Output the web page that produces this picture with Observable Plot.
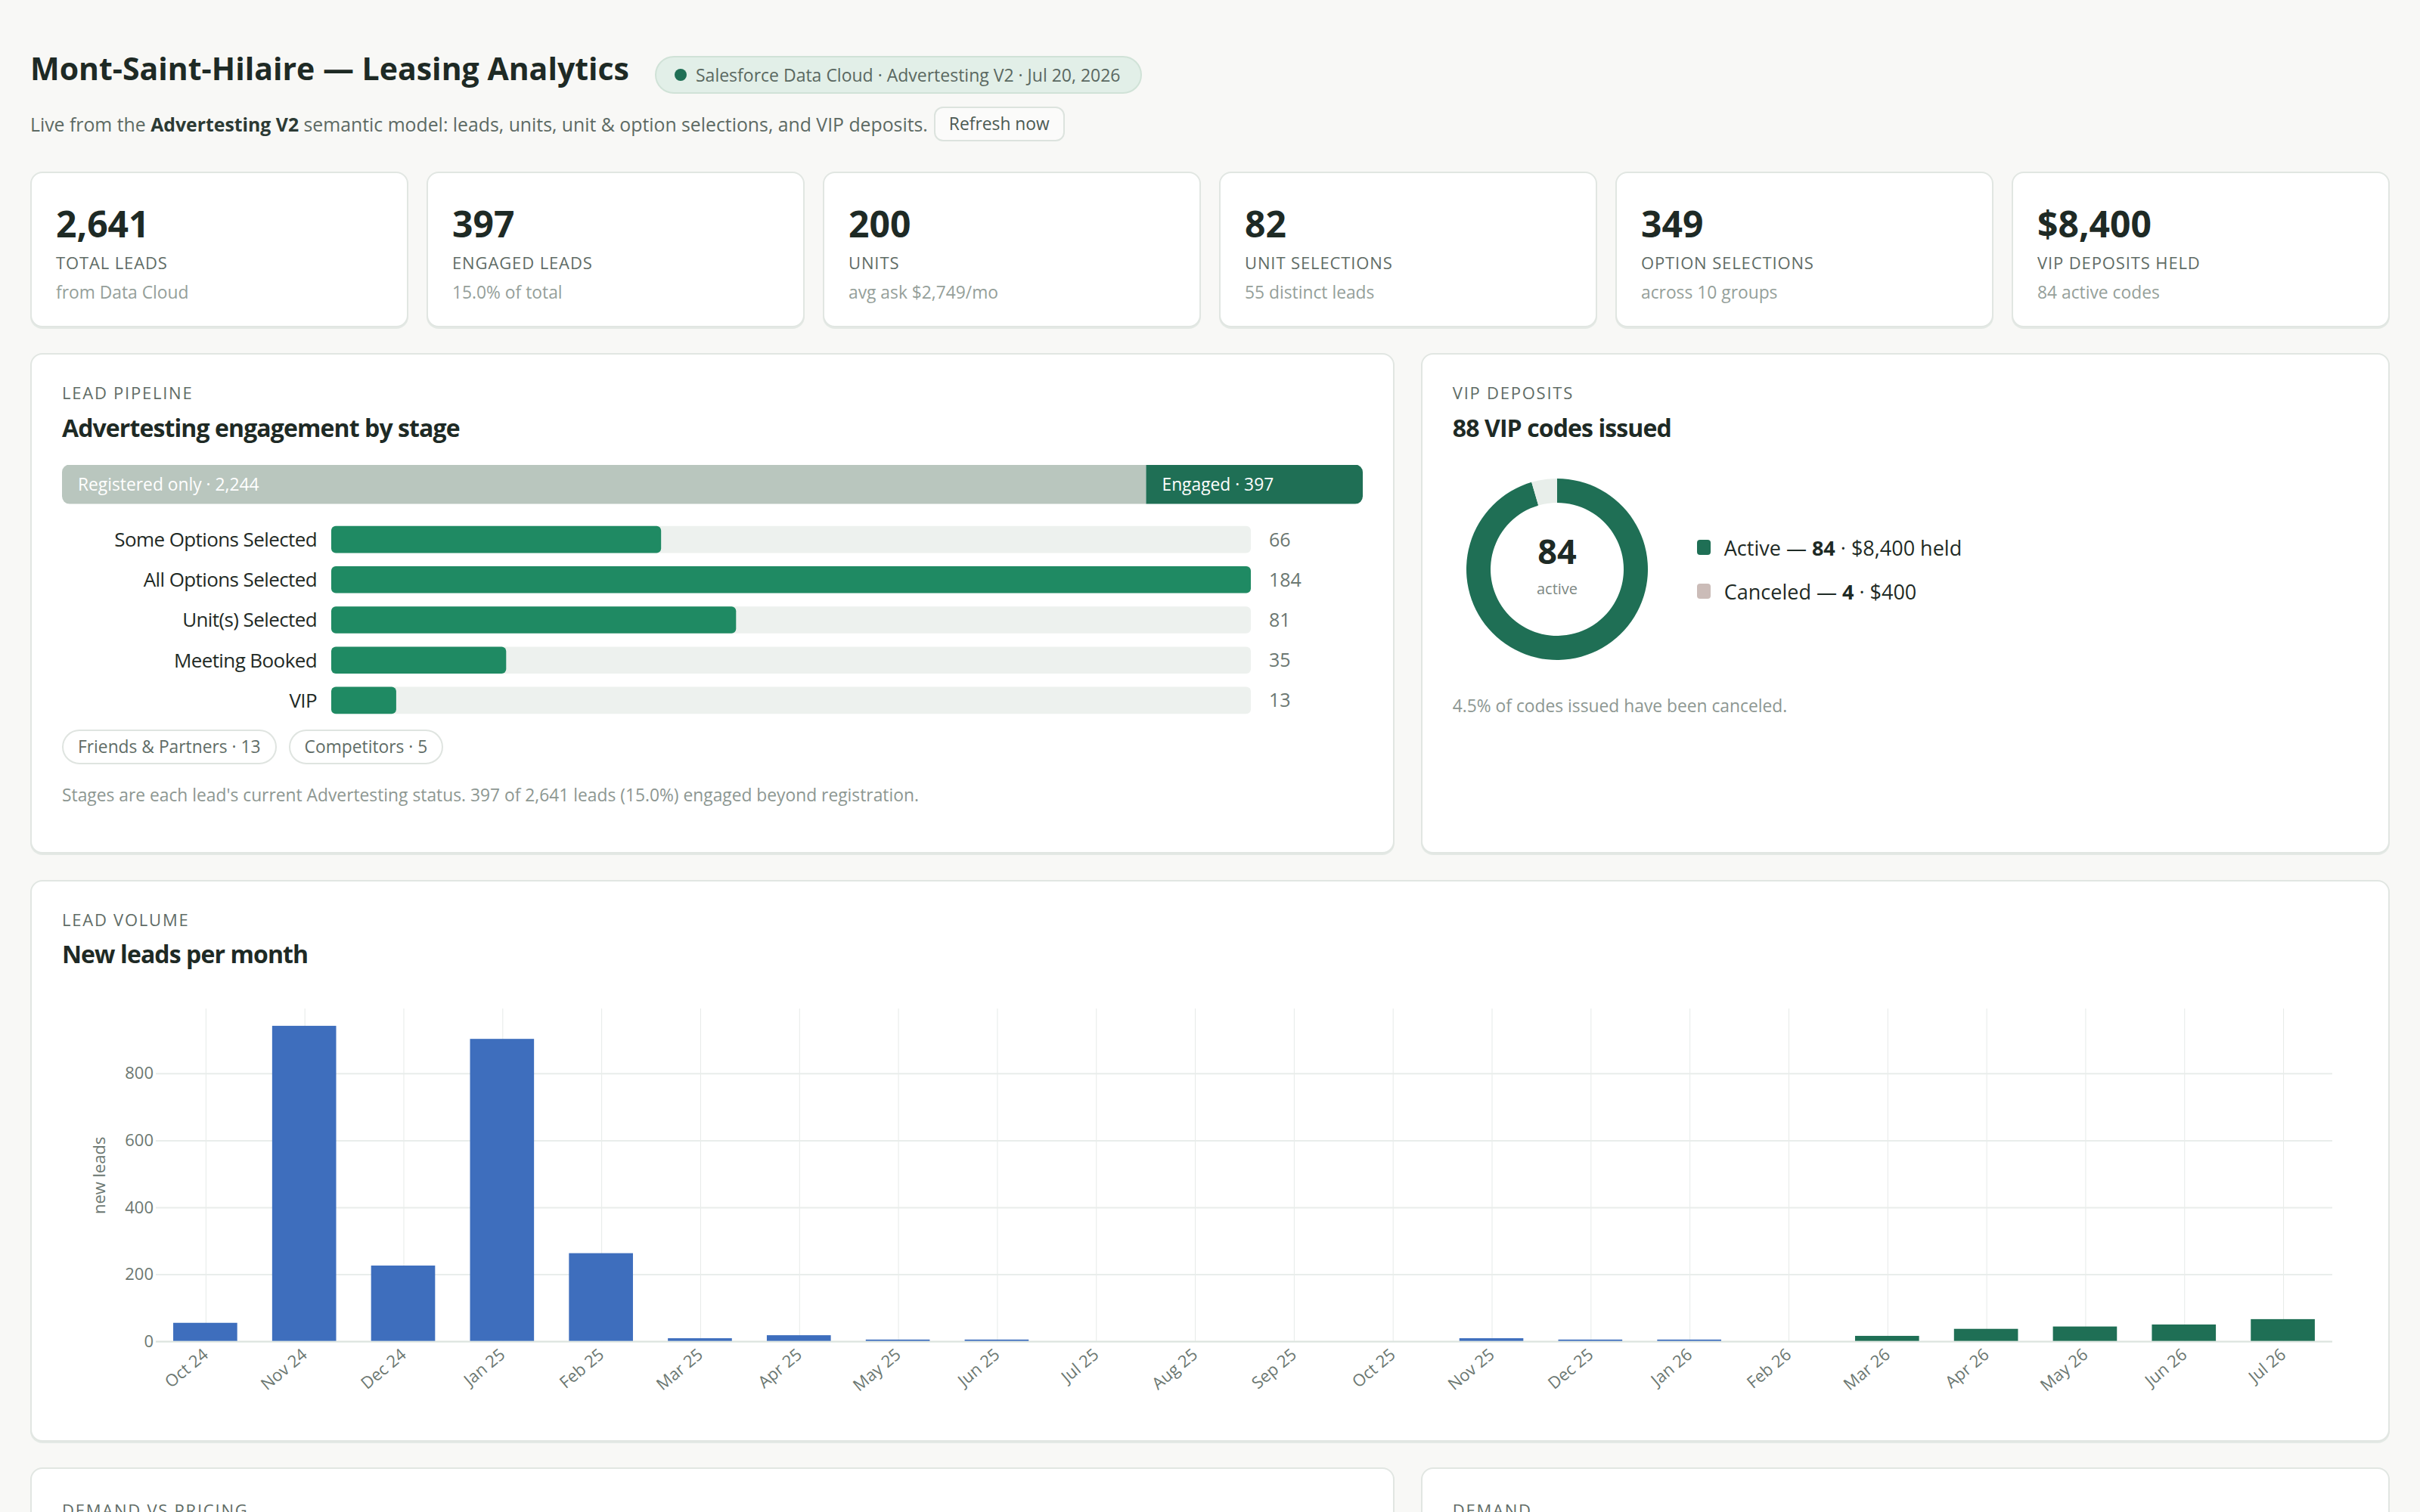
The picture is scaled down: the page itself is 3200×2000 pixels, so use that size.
<!DOCTYPE html>
<html lang="en">
<head>
<meta charset="utf-8">
<title>Mont-Saint-Hilaire — Leasing Analytics</title>
<script src="https://cdn.jsdelivr.net/npm/d3@7"></script>
<script src="https://cdn.jsdelivr.net/npm/@observablehq/plot@0.6"></script>
<style>
  html { zoom: 2; }
  body { margin: 0; background: #f8f8f6; font-family: "Open Sans", "Noto Sans", sans-serif; color: #1e2a25; }
  .page { width: 1560px; padding: 31px 20px 0; }
  .head { display: flex; align-items: flex-start; height: 28px; }
  h1 { margin: 0; font-size: 20.5px; line-height: 28px; font-weight: 700; color: #1e2a25; white-space: nowrap; }
  .badge { margin: 6px 0 0 17px; height: 25px; box-sizing: border-box; padding: 0 13px 0 12px; border: 1px solid #d0e2d7; background: #e2efe8; border-radius: 13px; font-size: 11.5px; color: #5a6861; display: flex; align-items: center; white-space: nowrap; }
  .badge .dot { width: 8px; height: 8px; border-radius: 50%; background: #1f6f55; margin-right: 6px; }
  .sub { margin-top: 11.5px; display: flex; align-items: center; height: 23px; font-size: 12.4px; color: #5d6a64; white-space: nowrap; }
  .sub b { color: #2c3a34; }
  .btn { margin-left: 4px; height: 23px; box-sizing: border-box; padding: 0 9px; border: 1px solid #dce3de; border-radius: 6px; background: #fbfbfa; font-size: 11.4px; line-height: 21px; color: #4b5a53; }
  .kpis { margin-top: 19.8px; display: grid; grid-template-columns: repeat(6, 1fr); gap: 12px; }
  .card { background: #fff; border: 1px solid #e1e6e2; border-radius: 8px; box-sizing: border-box; box-shadow: 0 1px 0 #e4e9e5; }
  .kpi { height: 103px; padding: 18.5px 16px 0; }
  .kpi .v { font-size: 24px; line-height: 30px; font-weight: 700; color: #1e2a25; }
  .kpi .l { margin-top: 3.5px; font-size: 11px; line-height: 14px; letter-spacing: .04em; color: #5f6c66; text-transform: uppercase; }
  .kpi .s { margin-top: 5px; font-size: 11.4px; line-height: 16px; color: #959f9a; }
  .row { margin-top: 17.4px; display: grid; grid-template-columns: 902px 1fr; gap: 17.4px; }
  .panel { padding: 18px 20px 0; }
  .tall { height: 331px; }
  .eyebrow { font-size: 11px; line-height: 14px; letter-spacing: .08em; color: #5f6c66; text-transform: uppercase; }
  .ptitle { margin-top: 5.2px; font-size: 16px; line-height: 22px; font-weight: 700; letter-spacing: -0.45px; color: #1e2a25; }
  .split svg { display: block; clip-path: inset(0 round 5px); }
  .split { margin-top: 13.4px; height: 26px; }
  .stages { margin-top: 10px; height: 133px; }
  .stages svg, .volume svg, .donut svg { display: block; overflow: visible; }
  .stages g[aria-label="y-axis tick label"] text { letter-spacing: -0.3px; }
  .pills { margin-top: 6px; display: flex; gap: 8px; }
  .pill { height: 23px; box-sizing: border-box; border: 1px solid #dfe4e0; border-radius: 12px; padding: 0 9.5px; font-size: 11.4px; line-height: 21px; color: #5f6c66; }
  .foot { margin-top: 12.6px; font-size: 11.4px; line-height: 16px; color: #8d9792; white-space: nowrap; }
  .vipbody { margin-top: 12.8px; display: flex; align-items: center; height: 140px; }
  .donut { width: 140px; height: 140px; margin-left: -1px; }
  .legend { margin-left: 22.5px; display: flex; flex-direction: column; }
  .legend div { height: 29px; display: flex; align-items: center; font-size: 13.5px; color: #1e2a25; white-space: nowrap; }
  .legend i { display: inline-block; width: 9px; height: 10px; border-radius: 2px; margin-right: 9px; }
  .vipnote { margin-top: 12.3px; font-size: 11.4px; line-height: 16px; color: #8d9792; }
  .volcard { margin-top: 17.3px; height: 371.7px; }
  .volume { margin-top: 6px; }
  .lower { margin-top: 17px; }
  .lower .card { height: 300px; padding-top: 20px; }
</style>
</head>
<body>
<div class="page">
  <div class="head">
    <h1>Mont-Saint-Hilaire — Leasing Analytics</h1>
    <div class="badge"><span class="dot"></span>Salesforce Data Cloud · Advertesting V2 · Jul 20, 2026</div>
  </div>
  <div class="sub">Live from the&nbsp;<b>Advertesting V2</b>&nbsp;semantic model: leads, units, unit &amp; option selections, and VIP deposits.<span class="btn">Refresh now</span></div>

  <div class="kpis" id="kpis"></div>

  <div class="row">
    <div class="card panel tall">
      <div class="eyebrow">Lead pipeline</div>
      <div class="ptitle">Advertesting engagement by stage</div>
      <div class="split" id="split"></div>
      <div class="stages" id="stages"></div>
      <div class="pills" id="pills"></div>
      <div class="foot" id="pipefoot"></div>
    </div>
    <div class="card panel tall">
      <div class="eyebrow">VIP deposits</div>
      <div class="ptitle" id="viptitle"></div>
      <div class="vipbody">
        <div class="donut" id="donut"></div>
        <div class="legend" id="viplegend"></div>
      </div>
      <div class="vipnote" id="vipnote"></div>
    </div>
  </div>

  <div class="card panel volcard">
    <div class="eyebrow">Lead volume</div>
    <div class="ptitle">New leads per month</div>
    <div class="volume" id="volume"></div>
  </div>

  <div class="row lower">
    <div class="card panel"><div class="eyebrow">Demand vs pricing</div></div>
    <div class="card panel"><div class="eyebrow">Demand</div></div>
  </div>
</div>

<script>
// ---- headline figures ----
const kpiValues = ["2,641", "397", "200", "82", "349", "$8,400"];
const kpiLabels = ["Total leads", "Engaged leads", "Units", "Unit selections", "Option selections", "VIP deposits held"];
const kpiNotes = ["from Data Cloud", "15.0% of total", "avg ask $2,749/mo", "55 distinct leads", "across 10 groups", "84 active codes"];

// ---- pipeline ----
const segments = ["Registered only", "Engaged"];
const segmentLeads = [2244, 397];

const stages = ["Some Options Selected", "All Options Selected", "Unit(s) Selected", "Meeting Booked", "VIP"];
const stageLeads = [66, 184, 81, 35, 13];

const groupNames = ["Friends & Partners", "Competitors"];
const groupLeads = [13, 5];

// ---- VIP deposits ----
const vipStatus = ["Active", "Canceled"];
const vipCodes = [84, 4];
const vipHeld = [8400, 400];

// ---- monthly lead volume ----
const months = ["Oct 24", "Nov 24", "Dec 24", "Jan 25", "Feb 25", "Mar 25", "Apr 25", "May 25", "Jun 25", "Jul 25", "Aug 25",
                "Sep 25", "Oct 25", "Nov 25", "Dec 25", "Jan 26", "Feb 26", "Mar 26", "Apr 26", "May 26", "Jun 26", "Jul 26"];
const newLeads = [54, 941, 225, 902, 262, 8, 17, 4, 4, 0, 0, 0, 0, 8, 4, 4, 0, 15, 36, 43, 49, 65];
const phase = ["before", "before", "before", "before", "before", "before", "before", "before", "before", "before", "before",
               "before", "before", "before", "before", "before", "before", "after", "after", "after", "after", "after"];
const yTicks = [0, 200, 400, 600, 800];

const FONT = '"Open Sans", "Noto Sans", sans-serif';
const fmt = d3.format(",");

// KPI cards
d3.select("#kpis").selectAll("div.kpi").data(kpiValues).join("div")
  .attr("class", "card kpi")
  .html((v, i) => `<div class="v">${v}</div><div class="l">${kpiLabels[i]}</div><div class="s">${kpiNotes[i]}</div>`);

// Registered vs engaged split bar (each segment carries 10px of padding on both sides)
const totalLeads = d3.sum(segmentLeads);
const segEnds = d3.cumsum(segmentLeads);
const segRows = segments.map((s, i) => ({segment: s, leads: segmentLeads[i], start: segEnds[i] - segmentLeads[i], end: segEnds[i]}));
const splitW = 860;
document.getElementById("split").append(Plot.plot({
  width: splitW, height: 26, margin: 0,
  style: {fontFamily: FONT, background: "transparent"},
  x: {domain: [0, totalLeads], range: [0, splitW - 40], axis: null},
  marks: [
    Plot.barX([segRows[0]], {x1: "start", x2: "end", fill: "#b9c6be", insetRight: -20}),
    Plot.barX([segRows[1]], {x1: "start", x2: "end", fill: "#1f6f55", dx: 20, insetRight: -20}),
    Plot.text([segRows[0]], {x: "start", text: d => `${d.segment} · ${fmt(d.leads)}`, dx: 10, textAnchor: "start", fill: "#fff", fontSize: 11.4}),
    Plot.text([segRows[1]], {x: "start", text: d => `${d.segment} · ${fmt(d.leads)}`, dx: 30, textAnchor: "start", fill: "#fff", fontSize: 11.4})
  ]
}));

// Stage bars on a shared track
const stageRows = stages.map((s, i) => ({stage: s, leads: stageLeads[i]}));
const stageMax = d3.max(stageLeads);
document.getElementById("stages").append(Plot.plot({
  width: 860, height: 133, marginTop: 0, marginBottom: 0, marginLeft: 178, marginRight: 74,
  style: {fontFamily: FONT, background: "transparent"},
  x: {domain: [0, stageMax], axis: null},
  y: {domain: stages, paddingInner: 0.33, paddingOuter: 0.165, round: false, axis: null},
  marks: [
    Plot.barX(stageRows, {y: "stage", x1: 0, x2: stageMax, fill: "#edf1ee", rx: 3}),
    Plot.barX(stageRows, {y: "stage", x: "leads", fill: "#1f8a63", rx: 3}),
    Plot.text(stageRows, {y: "stage", x: stageMax, text: d => String(d.leads), dx: 11.5, textAnchor: "start", fill: "#6b7771", fontSize: 12.5}),
    Plot.axisY({tickSize: 0, tickPadding: 10, fontSize: 13, fill: "#1f2a25", label: null})
  ]
}));

d3.select("#pills").selectAll("span").data(groupNames).join("span")
  .attr("class", "pill").text((g, i) => `${g} · ${groupLeads[i]}`);

const engaged = segmentLeads[1];
d3.select("#pipefoot").text(`Stages are each lead's current Advertesting status. ${engaged} of ${fmt(totalLeads)} leads (${(engaged / totalLeads * 100).toFixed(1)}%) engaged beyond registration.`);

// VIP donut
const issued = d3.sum(vipCodes);
d3.select("#viptitle").text(`${issued} VIP codes issued`);
const arcColors = ["#1f6f55", "#e8eeea"];
const swatchColors = ["#1f6f55", "#cbbcb8"];
const R = 60, r = 44;
const donut = d3.select("#donut").append("svg").attr("width", 140).attr("height", 140)
  .append("g").attr("transform", "translate(70,70)");
const arcs = d3.pie().sort(null)(vipCodes);
donut.selectAll("path").data(arcs).join("path")
  .attr("d", d3.arc().innerRadius(r).outerRadius(R))
  .attr("fill", (d, i) => arcColors[i]);
donut.append("text").attr("y", -3.5).attr("text-anchor", "middle")
  .style("font", `700 22.5px ${FONT}`).attr("fill", "#1e2a25").text(vipCodes[0]);
donut.append("text").attr("y", 16.5).attr("text-anchor", "middle")
  .style("font", `10px ${FONT}`).attr("fill", "#7d8883").text("active");

d3.select("#viplegend").selectAll("div").data(vipStatus).join("div")
  .html((s, i) => `<i style="background:${swatchColors[i]}"></i>${s} —&nbsp;<b>${vipCodes[i]}</b>&nbsp;· $${fmt(vipHeld[i])}${i === 0 ? " held" : ""}`);

d3.select("#vipnote").text(`${(vipCodes[1] / issued * 100).toFixed(1)}% of codes issued have been canceled.`);

// New leads per month
const leadRows = months.map((m, i) => ({month: m, leads: newLeads[i], phase: phase[i]}));
document.getElementById("volume").append(Plot.plot({
  width: 1519, height: 285, marginTop: 19, marginBottom: 46, marginLeft: 62, marginRight: 17,
  style: {fontFamily: FONT, fontSize: "11px", color: "#6b7771", background: "transparent"},
  x: {domain: months, paddingInner: 0.353, paddingOuter: 0.1765, round: false},
  y: {domain: [0, d3.max(newLeads) * 1.055]},
  color: {domain: ["before", "after"], range: ["#3e6ebd", "#1f6f55"]},
  marks: [
    Plot.gridX(months, {stroke: "#e6eae8", strokeOpacity: 1, strokeWidth: 0.5}),
    Plot.gridY(yTicks.filter(t => t > 0), {stroke: "#e9edeb", strokeOpacity: 1, strokeWidth: 1}),
    Plot.ruleY([0], {stroke: "#dde4df", strokeWidth: 1.2}),
    Plot.barY(leadRows, {x: "month", y: "leads", fill: "phase"}),
    Plot.axisX({tickSize: 0, tickPadding: 7, tickRotate: -40, label: null, fill: "#6b7771", fontSize: 11}),
    Plot.axisY({ticks: yTicks, tickSize: 0, tickPadding: 2, label: "new leads", labelAnchor: "center", labelArrow: "none", labelOffset: 42, fill: "#6b7771", fontSize: 11})
  ]
}));
</script>
</body>
</html>
